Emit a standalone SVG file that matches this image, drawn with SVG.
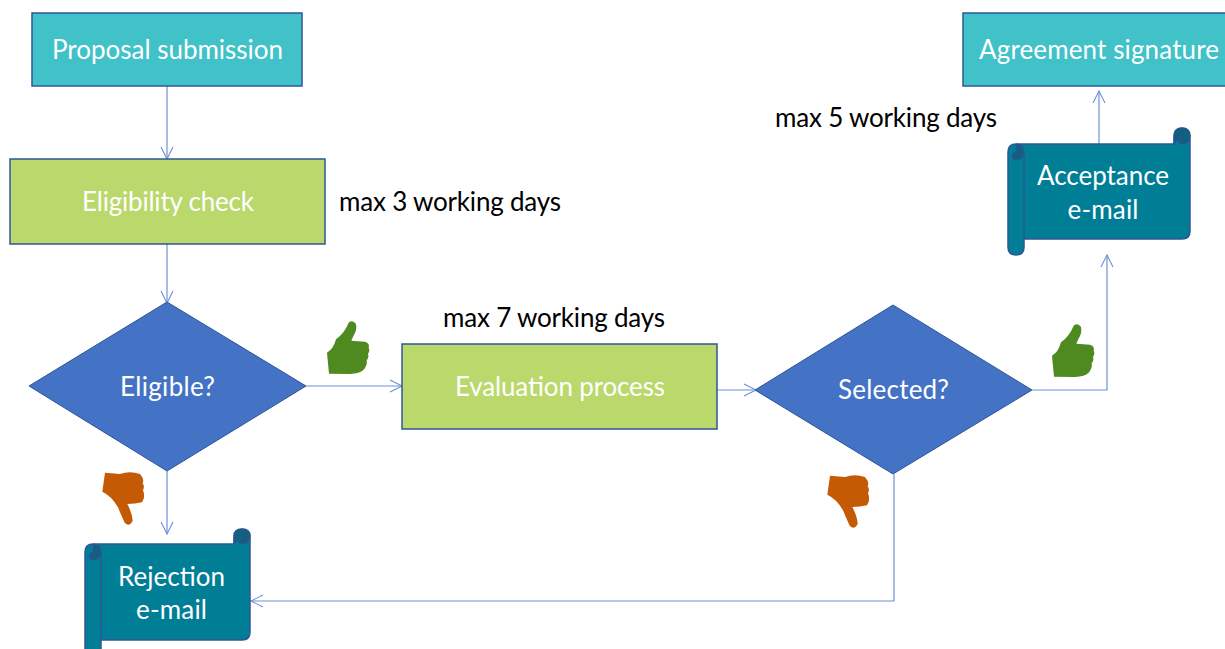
<svg xmlns="http://www.w3.org/2000/svg" width="1225" height="649" viewBox="0 0 1225 649">
<style>
text{font-family:"Lato","Noto Sans",sans-serif;font-size:26px}
.w{fill:#fff;text-anchor:middle}
.k{fill:#000}
.teal{fill:#41c1c8;stroke:#2f5597;stroke-width:1.5}
.green{fill:#bad86c;stroke:#2f5597;stroke-width:1.5}
.dia{fill:#4472c4;stroke:#2f5597;stroke-width:1}
.scroll{fill:#007e96;stroke:#2f5597;stroke-width:1.5;stroke-linejoin:round}
.curl{fill:#125f80;stroke:#2f5597;stroke-width:1}
.c{fill:none;stroke:#6f90d4;stroke-width:1.2}
.up{fill:#4e8a20}
.down{fill:#c55a05}
</style>
<defs>
<marker id="a" markerWidth="14" markerHeight="14" refX="12" refY="6" orient="auto" markerUnits="userSpaceOnUse" overflow="visible"><path d="M0,0 L12,6 L0,12" fill="none" stroke="#6f90d4" stroke-width="1.1"/></marker>
<path id="tu" d="M116,38 Q128,28 138,42 Q142,60 130,78 L124,92 L165,95 Q180,100 176,113 Q181,122 174,131 Q178,141 170,151 Q173,167 160,180 Q150,190 120,192 L57,191 L51,128 Q70,118 78,88 Q103,70 116,38 Z"/>
<path id="td" d="M105,38 L150,42 Q180,31 210,42 Q224,58 218,70 Q225,80 219,90 Q227,112 216,127 Q195,132 172,132 Q187,160 188,183 Q178,202 164,188 Q152,162 144,142 Q125,108 97,95 Z"/>
</defs>
<g id="connectors">
<path class="c" marker-end="url(#a)" d="M167,86V159"/>
<path class="c" marker-end="url(#a)" d="M167,244V303"/>
<path class="c" marker-end="url(#a)" d="M306,386H402"/>
<path class="c" marker-end="url(#a)" d="M717,390H756"/>
<path class="c" marker-end="url(#a)" d="M167,471V534"/>
<path class="c" marker-end="url(#a)" d="M894,474V601H251"/>
<path class="c" marker-end="url(#a)" d="M1032,390H1107V255"/>
<path class="c" marker-end="url(#a)" d="M1099,144V91"/>
</g>
<g id="proposal"><rect class="teal" x="32" y="13" width="270" height="73"/><text class="w" x="167.500" y="59" textLength="231">Proposal submission</text></g>
<g id="agreement"><rect class="teal" x="963" y="13" width="270" height="73"/><text class="w" x="1099" y="59" textLength="240">Agreement signature</text></g>
<g id="eligibility"><rect class="green" x="10" y="159" width="315" height="85"/><text class="w" x="168" y="211" textLength="172">Eligibility check</text></g>
<g id="evaluation"><rect class="green" x="402" y="344" width="315" height="85"/><text class="w" x="560" y="396" textLength="210">Evaluation process</text></g>
<g id="eligible"><path class="dia" d="M29,386L167,302L306,386L167,471Z"/><text class="w" x="167.500" y="396" textLength="95">Eligible?</text></g>
<g id="selected"><path class="dia" d="M755,390L893,305L1032,390L893,474Z"/><text class="w" x="893.500" y="399" textLength="111">Selected?</text></g>
<g id="rejection">
<path class="scroll" d="M85,552Q85,544 93,544H234V536Q234,529 242,529Q250,529 250,536V632Q250,640 242,640H101V656H85Z"/>
<path class="scroll" d="M101,552V640" fill="none"/>
<path class="curl" d="M234,544V536Q234,529 242,529Q250,529 250,536Q250,544 242,544Q238,544 238,540L242,536Z"/>
<path class="curl" d="M93,544Q101,544 101,552Q101,560 93,560Q89,560 89,556Q89,552 93,552V544Z"/>
<text class="w" x="171.500" y="586" textLength="107">Rejection</text><text class="w" x="171.500" y="619" textLength="71">e-mail</text></g>
<g id="acceptance">
<path class="scroll" d="M1008,152Q1008,144 1016,144H1174V136Q1174,128 1182,128Q1190,128 1190,136V231Q1190,239 1182,239H1024V247Q1024,255 1016,255Q1008,255 1008,247Z"/>
<path class="scroll" d="M1024,152V239" fill="none"/>
<path class="curl" d="M1174,144V136Q1174,128 1182,128Q1190,128 1190,136Q1190,144 1182,144Q1178,144 1178,140L1182,136Z"/>
<path class="curl" d="M1016,144Q1024,144 1024,152Q1024,160 1016,160Q1012,160 1012,156Q1012,152 1016,152V144Z"/>
<text class="w" x="1103" y="185" textLength="132">Acceptance</text><text class="w" x="1103" y="219" textLength="71">e-mail</text></g>
<g id="labels">
<text class="k" x="339" y="211" textLength="222">max 3 working days</text>
<text class="k" x="443" y="327" textLength="222">max 7 working days</text>
<text class="k" x="775" y="127" textLength="222">max 5 working days</text>
</g>
<g id="thumbs">
<use href="#tu" class="up" transform="translate(310,310) scale(.3333)"/>
<use href="#tu" class="up" transform="translate(1035,313) scale(.3333)"/>
<use href="#td" class="down" transform="translate(70,460) scale(.3333)"/>
<use href="#td" class="down" transform="translate(795,463) scale(.3333)"/>
</g>
</svg>
